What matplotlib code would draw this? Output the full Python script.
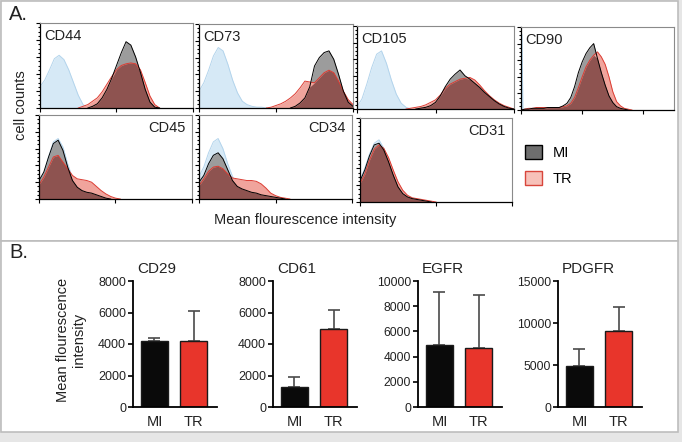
import numpy as np
import matplotlib
matplotlib.use("Agg")
import matplotlib.pyplot as plt
from matplotlib.patches import Rectangle, Patch
from matplotlib.ticker import MultipleLocator, NullFormatter

plt.rcParams["font.family"] = ["Liberation Sans", "DejaVu Sans"]

W, H = 682, 442
STEP = 0.125  # histogram grid, in decades of intensity

# ---- panel A: histogram heights (fraction of panel height), one value per STEP decade
CD44_ISO = [0.25, 0.33, 0.45, 0.58, 0.62, 0.57, 0.45, 0.30, 0.15, 0.04, 0]
CD44_MI = [0, 0, 0, 0, 0, 0, 0, 0, 0, 0, 0, 0.02, 0.05, 0.12, 0.22, 0.35, 0.50,
           0.65, 0.78, 0.74, 0.60, 0.42, 0.22, 0.07, 0.01, 0]
CD44_TR = [0, 0, 0, 0, 0, 0, 0, 0, 0, 0.02, 0.04, 0.08, 0.12, 0.19, 0.28, 0.37,
           0.45, 0.50, 0.52, 0.53, 0.52, 0.45, 0.30, 0.14, 0.04, 0]

CD73_ISO = [0.20, 0.30, 0.45, 0.62, 0.72, 0.68, 0.52, 0.33, 0.18, 0.08, 0.04,
            0.02, 0.01, 0.01, 0]
CD73_MI = [0, 0, 0, 0, 0, 0, 0, 0, 0, 0, 0, 0, 0, 0, 0, 0, 0, 0, 0, 0, 0.02,
           0.06, 0.12, 0.25, 0.50, 0.60, 0.66, 0.68, 0.58, 0.40, 0.20, 0.07, 0.02]
CD73_TR = [0, 0, 0, 0, 0, 0, 0, 0, 0, 0, 0, 0, 0, 0, 0, 0.01, 0.03, 0.05, 0.08,
           0.12, 0.17, 0.24, 0.32, 0.31, 0.30, 0.36, 0.42, 0.45, 0.42, 0.32,
           0.20, 0.10, 0.04]

CD105_ISO = [0.03, 0.12, 0.30, 0.50, 0.66, 0.70, 0.55, 0.35, 0.18, 0.07, 0.02, 0]
CD105_MI = [0, 0, 0, 0, 0, 0, 0, 0, 0, 0, 0, 0, 0, 0.01, 0.02, 0.04, 0.08,
            0.16, 0.27, 0.36, 0.42, 0.47, 0.40, 0.36, 0.31, 0.26, 0.20, 0.15,
            0.10, 0.06, 0.03, 0.01, 0]
CD105_TR = [0, 0, 0, 0, 0, 0, 0, 0, 0, 0, 0, 0.01, 0.02, 0.03, 0.05, 0.08,
            0.11, 0.17, 0.25, 0.30, 0.33, 0.36, 0.37, 0.38, 0.35, 0.29, 0.22,
            0.16, 0.11, 0.07, 0.04, 0.02, 0]

CD90_ISO = [0.95, 0.90, 0]
CD90_MI = [0, 0.01, 0.01, 0.02, 0.02, 0.02, 0.02, 0.03, 0.03, 0.03, 0.03, 0.05,
           0.08, 0.15, 0.28, 0.45, 0.58, 0.68, 0.75, 0.80, 0.62, 0.45, 0.30,
           0.17, 0.09, 0.04, 0.02, 0.01, 0]
CD90_TR = [0, 0.01, 0.02, 0.02, 0.03, 0.03, 0.03, 0.03, 0.03, 0.03, 0.03, 0.04,
           0.05, 0.08, 0.15, 0.27, 0.40, 0.52, 0.60, 0.66, 0.70, 0.64, 0.55,
           0.40, 0.22, 0.10, 0.05, 0.02, 0.01, 0]

CD45_ISO = [0.20, 0.30, 0.50, 0.68, 0.72, 0.62, 0.42, 0.25, 0.15, 0.09, 0.06,
            0.04, 0.02, 0.01, 0]
CD45_MI = [0.22, 0.32, 0.50, 0.66, 0.70, 0.58, 0.38, 0.22, 0.14, 0.10, 0.08,
           0.07, 0.05, 0.03, 0.01, 0]
CD45_TR = [0.17, 0.26, 0.38, 0.50, 0.52, 0.44, 0.36, 0.28, 0.24, 0.23, 0.22,
           0.20, 0.15, 0.10, 0.06, 0.03, 0.01, 0]

CD34_ISO = [0.27, 0.38, 0.55, 0.68, 0.72, 0.60, 0.42, 0.27, 0.17, 0.10, 0.06,
            0.04, 0.02, 0.01, 0]
CD34_MI = [0.20, 0.28, 0.42, 0.52, 0.55, 0.48, 0.35, 0.22, 0.15, 0.12, 0.10,
           0.08, 0.07, 0.05, 0.04, 0.03, 0.02, 0.01, 0]
CD34_TR = [0.16, 0.24, 0.33, 0.38, 0.39, 0.36, 0.30, 0.25, 0.24, 0.23, 0.22,
           0.22, 0.21, 0.18, 0.13, 0.07, 0.04, 0.02, 0.01, 0]

CD31_ISO = [0.26, 0.40, 0.57, 0.70, 0.74, 0.64, 0.49, 0.32, 0.18, 0.10, 0.06,
            0.04, 0.03, 0.02, 0.01, 0]
CD31_MI = [0.25, 0.38, 0.55, 0.68, 0.70, 0.62, 0.48, 0.32, 0.18, 0.10, 0.06,
           0.04, 0.03, 0.02, 0.01, 0]
CD31_TR = [0.22, 0.33, 0.50, 0.63, 0.68, 0.64, 0.53, 0.38, 0.24, 0.14, 0.08,
           0.05, 0.04, 0.03, 0.02, 0.01, 0]

# ---- panel B: mean fluorescence intensity, upper error
GROUPS = ["MI", "TR"]
CD29_MEAN, CD29_ERR = [4200, 4200], [200, 1900]
CD61_MEAN, CD61_ERR = [1270, 4950], [640, 1190]
EGFR_MEAN, EGFR_ERR = [4890, 4710], [4260, 4180]
PDGFR_MEAN, PDGFR_ERR = [4840, 9010], [2060, 2860]

ISO_FILL, ISO_EDGE = "#d6e9f6", "#b3d4ec"
MI_FILL, TR_FILL, BOTH_FILL = "#9c9c9c", "#f0a49c", "#8e5350"
TR_EDGE = "#dc3c32"
BAR_RED = "#e8352b"
TEXT = "#222222"


def px_axes(fig, left, top, right, bottom):
    ax = fig.add_axes([left / W, 1 - bottom / H, (right - left) / W, (bottom - top) / H])
    ax.set_zorder(2)
    return ax


def outline(ax, x, v, **kw):
    v = np.asarray(v, dtype=float)
    keep = v > 0
    keep[1:] |= v[:-1] > 0
    keep[:-1] |= v[1:] > 0
    ax.plot(x, np.ma.masked_where(~keep, v), **kw)


def histogram(fig, box, name, iso, mi, tr, decades=4, right_label=False):
    ax = px_axes(fig, *box)
    iso_step = STEP / 4 if decades == 5 else STEP
    xi = 10 ** (np.arange(len(iso)) * iso_step)
    xm = 10 ** (np.arange(len(mi)) * STEP)
    xt = 10 ** (np.arange(len(tr)) * STEP)
    n = min(len(mi), len(tr))
    both = np.minimum(np.asarray(mi[:n]), np.asarray(tr[:n]))

    ax.fill_between(xi, 0, iso, color=ISO_FILL, lw=0, zorder=1)
    outline(ax, xi, iso, color=ISO_EDGE, lw=0.7, zorder=1.1)
    ax.fill_between(xm, 0, mi, color=MI_FILL, lw=0, zorder=1.2)
    ax.fill_between(xt, 0, tr, color=TR_FILL, lw=0, zorder=1.3)
    ax.fill_between(xm[:n], 0, both, color=BOTH_FILL, lw=0, zorder=1.4)
    outline(ax, xt, tr, color=TR_EDGE, lw=0.7, zorder=1.5)
    outline(ax, xm, mi, color="black", lw=0.7, zorder=1.6)

    ax.set_xscale("log")
    ax.set_xlim(1, 10 ** decades)
    ax.set_ylim(0, 1)
    ax.yaxis.set_major_locator(MultipleLocator(0.2))
    ax.yaxis.set_minor_locator(MultipleLocator(0.05))
    ax.xaxis.set_minor_formatter(NullFormatter())
    ax.tick_params(which="both", direction="out", labelbottom=False,
                   labelleft=False, width=0.8)
    ax.tick_params(which="major", length=3)
    ax.tick_params(which="minor", length=1.6)
    for side in ("left", "bottom"):
        ax.spines[side].set_linewidth(0.9)
    for side in ("top", "right"):
        ax.spines[side].set_color("#8a8a8a")
        ax.spines[side].set_linewidth(0.8)
    if right_label:
        ax.text(0.96, 0.93, name, transform=ax.transAxes, ha="right", va="top",
                fontsize=10.5, color=TEXT)
    else:
        ax.text(0.025, 0.93, name, transform=ax.transAxes, ha="left", va="top",
                fontsize=10.5, color=TEXT)
    return ax


def bars(fig, left, name, means, errs, ymax, ystep, ysize):
    ax = px_axes(fig, left, 281, left + 84, 407)
    ax.patch.set_alpha(0)
    pos = np.arange(len(GROUPS))
    ax.errorbar(pos, means, yerr=[[0] * len(errs), errs], fmt="none",
                ecolor="#4a4a4a", elinewidth=1.2, capsize=4, capthick=1.2, zorder=1)
    ax.bar(pos, means, width=0.7, color=["#0a0a0a", BAR_RED],
           edgecolor="#1a1a1a", linewidth=1.0, zorder=2)
    ax.set_xlim(-0.55, 1.6)
    ax.set_ylim(0, ymax)
    ax.set_yticks(np.arange(0, ymax + 1, ystep))
    ax.set_xticks(pos)
    ax.set_xticklabels(GROUPS, fontsize=10.5, color=TEXT)
    ax.tick_params(axis="x", length=0, pad=6)
    ax.tick_params(axis="y", length=3.5, width=1.2, labelsize=ysize, pad=1.5,
                   labelcolor=TEXT)
    for side in ("top", "right"):
        ax.spines[side].set_visible(False)
    for side in ("left", "bottom"):
        ax.spines[side].set_linewidth(1.3)
    ax.text(0.05, 1.04, name, transform=ax.transAxes, ha="left", va="bottom",
            fontsize=11, color=TEXT)
    return ax


def main():
    fig = plt.figure(figsize=(W / 100, H / 100), dpi=100, facecolor="#e6e6e6")

    for top, bottom in ((1, 241), (241, 432)):
        fig.patches.append(Rectangle((1 / W, 1 - bottom / H), 677 / W, (bottom - top) / H,
                                     transform=fig.transFigure, facecolor="white",
                                     edgecolor="#bdbdbd", lw=1.2, zorder=0))

    histogram(fig, (40, 23, 193, 108), "CD44", CD44_ISO, CD44_MI, CD44_TR)
    histogram(fig, (199, 24, 353, 108), "CD73", CD73_ISO, CD73_MI, CD73_TR)
    histogram(fig, (357, 26, 514, 109), "CD105", CD105_ISO, CD105_MI, CD105_TR)
    histogram(fig, (521, 27, 674, 110), "CD90", CD90_ISO, CD90_MI, CD90_TR, decades=5)
    histogram(fig, (39, 115, 192, 199), "CD45", CD45_ISO, CD45_MI, CD45_TR, right_label=True)
    histogram(fig, (199, 115, 352, 199), "CD34", CD34_ISO, CD34_MI, CD34_TR, right_label=True)
    histogram(fig, (360, 118, 512, 202), "CD31", CD31_ISO, CD31_MI, CD31_TR, right_label=True)

    fig.text(9 / W, 1 - 14 / H, "A.", fontsize=14.5, va="center", ha="left", color=TEXT)
    fig.text(21 / W, 1 - 105 / H, "cell counts", rotation=90, fontsize=10.5,
             ha="center", va="center", color=TEXT)
    fig.text(305 / W, 1 - 220 / H, "Mean flourescence intensity", fontsize=10.5,
             ha="center", va="center", color=TEXT)

    handles = [Patch(facecolor="#6e6e6e", edgecolor="black", lw=1.0),
               Patch(facecolor="#f7c1b9", edgecolor="#d8453b", lw=1.0)]
    fig.legend(handles, GROUPS, loc="upper left", bbox_to_anchor=(525 / W, 1 - 145 / H),
               frameon=False, borderpad=0, borderaxespad=0, handlelength=1.15,
               handleheight=1.1, handletextpad=0.75, labelspacing=0.75, fontsize=10.5)

    fig.text(9 / W, 1 - 252 / H, "B.", fontsize=14.5, va="center", ha="left", color=TEXT)
    fig.text(71 / W, 1 - 340 / H, "Mean flourescence\nintensity", rotation=90,
             fontsize=10.5, ha="center", va="center", multialignment="center",
             color=TEXT)

    bars(fig, 133, "CD29", CD29_MEAN, CD29_ERR, 8000, 2000, 9)
    bars(fig, 273, "CD61", CD61_MEAN, CD61_ERR, 8000, 2000, 9)
    bars(fig, 418, "EGFR", EGFR_MEAN, EGFR_ERR, 10000, 2000, 8.7)
    bars(fig, 558, "PDGFR", PDGFR_MEAN, PDGFR_ERR, 15000, 5000, 8.7)

    fig.savefig("out.png", dpi=100, facecolor=fig.get_facecolor())


if __name__ == "__main__":
    main()
